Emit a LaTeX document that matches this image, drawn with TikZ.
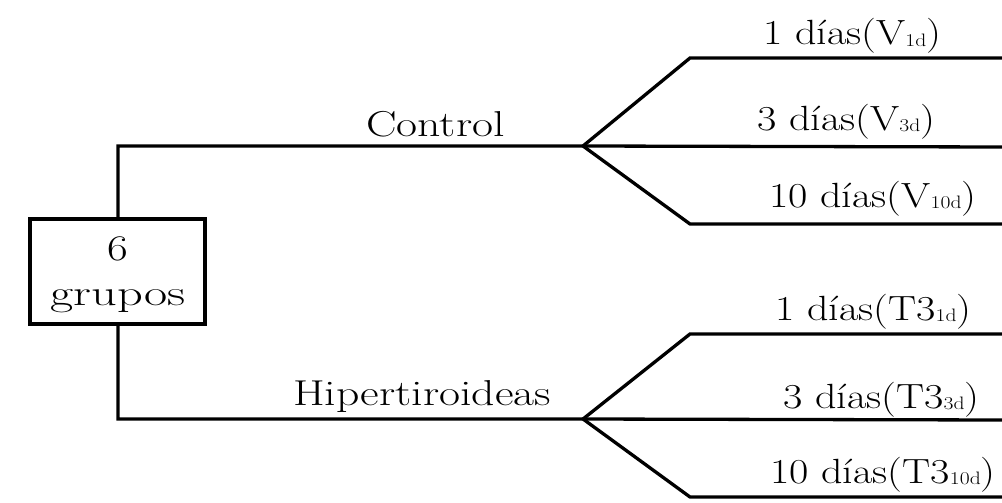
\documentclass[tikz,border=0pt]{standalone}
\usepackage{graphicx}
\newcommand\lbltext[1]{\scalebox{1.27}[1]{\fontsize{36}{40}\selectfont #1}}
\newcommand\daytext[1]{\scalebox{1.2}[1]{\fontsize{35}{40}\selectfont #1}}
\newcommand\idx[1]{\raisebox{-0.1ex}{\fontsize{18}{20}\selectfont #1}}
\tikzset{
  wire/.style={line width=3.3pt, line join=miter, line cap=rect},
  lbl/.style={anchor=base west, inner sep=0pt},
  gbox/.style={draw, line width=3.3pt, minimum width=175pt, minimum height=105pt, inner sep=0pt, align=center}
}
\begin{document}
\begin{tikzpicture}[x=1pt,y=-1pt]
\useasboundingbox (0,0) rectangle (1002,503);
\fill[white] (0,0) rectangle (1002,503);
% box
\node[gbox] (g) at (117.5,271.5) {};
\node[inner sep=0pt, anchor=base] (g6) at (117.5,260) {\scalebox{1.25}[1]{\fontsize{36}{40}\selectfont 6}};
\node[inner sep=0pt, anchor=base] (gg) at (118,305) {\scalebox{1.4}[1]{\fontsize{36}{40}\selectfont grupos}};
% control
\coordinate (c0) at (118,146);
\coordinate (cf) at (583,146);
\coordinate (c1a) at (690,58);
\coordinate (c1e) at (1002,58);
\coordinate (c2e) at (1002,147);
\coordinate (c3a) at (690,224);
\coordinate (c3e) at (1002,224);
\draw[wire] (g.north -| c0) -- (c0) -- (cf) -- (c2e);
\draw[wire] (c1e) -- (c1a) -- (cf) -- (c3a) -- (c3e);
% hiper
\coordinate (h0) at (118,419);
\coordinate (hf) at (583,419);
\coordinate (h1a) at (690,334);
\coordinate (h1e) at (1002,334);
\coordinate (h2e) at (1002,420);
\coordinate (h3a) at (690,497);
\coordinate (h3e) at (1002,497);
\draw[wire] (g.south -| h0) -- (h0) -- (hf) -- (h2e);
\draw[wire] (h1e) -- (h1a) -- (hf) -- (h3a) -- (h3e);
% labels
\node[lbl] (lc) at (366,136) {\lbltext{Control}};
\node[lbl] (lh) at (293,405) {\lbltext{Hipertiroideas}};
\node[lbl] (v1) at (763,45) {\daytext{1 días(V\idx{1d})}};
\node[lbl] (v3) at (757,130) {\daytext{3 días(V\idx{3d})}};
\node[lbl] (v10) at (769,207) {\daytext{10 días(V\idx{10d})}};
\node[lbl] (t1) at (775,320) {\daytext{1 días(T3\idx{1d})}};
\node[lbl] (t3) at (783,408) {\daytext{3 días(T3\idx{3d})}};
\node[lbl] (t10) at (770,483) {\daytext{10 días(T3\idx{10d})}};
\end{tikzpicture}
\end{document}
